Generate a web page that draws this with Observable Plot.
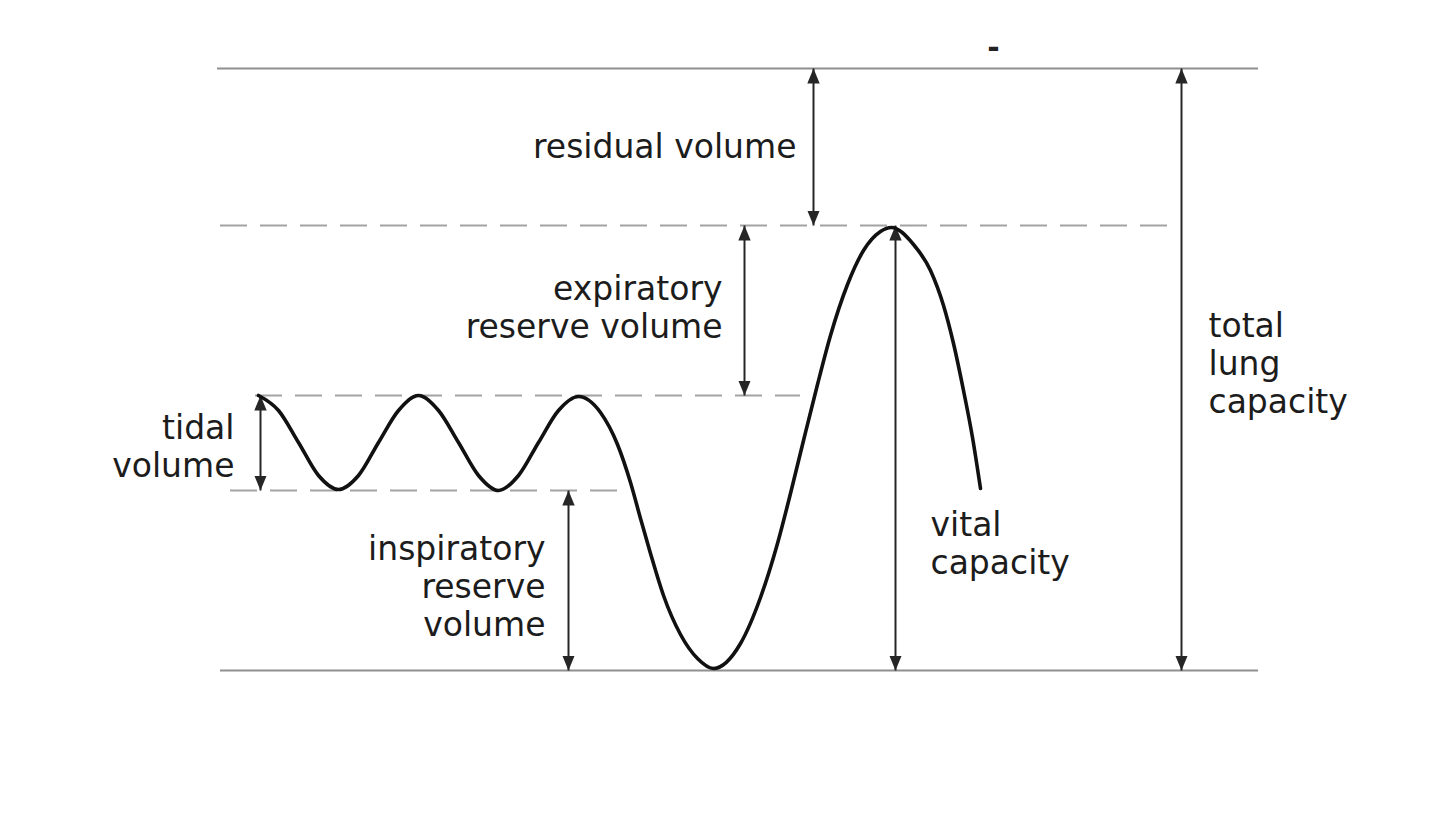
<!DOCTYPE html>
<html>
<head>
<meta charset="utf-8">
<script src="https://cdn.jsdelivr.net/npm/d3@7"></script>
<script src="https://cdn.jsdelivr.net/npm/@observablehq/plot@0.6"></script>
<style>
  html, body { margin: 0; padding: 0; background: #fff; overflow: hidden; }
  #chart svg { display: block; }
</style>
</head>
<body>
<div id="chart"></div>
<script>
// ---- Spirogram trace: time (s) and volume (L, measured downward from the top line) ----
const traceTime = [
  0.95, 1.45, 1.95, 2.45, 2.95, 3.45, 3.95, 4.45, 4.95, 5.45, 5.95, 6.45, 6.95, 7.45, 7.95, 8.45, 8.95,
  9.5, 9.925, 10.25, 10.5, 10.75, 11.075, 11.5, 11.925, 12.325,
  13.0, 13.5, 13.925, 14.25, 14.575, 14.925, 15.25, 15.675, 16.075, 16.5, 16.775,
  17.325, 17.75, 18.075, 18.325, 18.575, 18.8, 19.0];
const traceVolume = [
  3.27, 3.42, 3.74, 4.07, 4.21, 4.07, 3.74, 3.42, 3.27, 3.42, 3.74, 4.07, 4.22, 4.07, 3.74, 3.42, 3.28,
  3.44, 3.76, 4.14, 4.50, 4.85, 5.27, 5.66, 5.90, 6.00,
  5.75, 5.29, 4.75, 4.25, 3.72, 3.16, 2.67, 2.16, 1.82, 1.63, 1.59,
  1.76, 2.02, 2.37, 2.75, 3.22, 3.69, 4.20];

// ---- Reference levels (volume) ----
const levelNames  = ["top", "residual", "tidalTop", "tidalBottom", "bottom"];
const levelValues = [0, 1.57, 3.27, 4.22, 6.02];
const levelStart  = [-0.075, 0, 0.875, 0.25, 0];
const levelEnd    = [25.95, 23.7, 14.5, 10.125, 25.95];
const levelDashed = [false, true, true, true, false];

// ---- Measured spans (double arrows) ----
const spanNames = ["residual volume", "expiratory reserve volume", "tidal volume",
  "inspiratory reserve volume", "vital capacity", "total lung capacity"];
const spanFrom = ["top", "residual", "tidalTop", "tidalBottom", "residual", "top"];
const spanTo   = ["residual", "tidalTop", "tidalBottom", "bottom", "bottom", "bottom"];
const spanTime = [14.825, 13.1, 1.0, 8.7, 16.875, 24.025];

// ---- Labels ----
const labelTexts = ["residual volume", "expiratory\nreserve volume", "tidal\nvolume",
  "inspiratory\nreserve\nvolume", "vital\ncapacity", "total\nlung\ncapacity"];
const labelTime   = [14.4, 12.55, 0.35, 8.125, 17.75, 24.7];
const labelVolume = [0.77, 2.38, 3.775, 5.17, 4.745, 2.945];
const labelAnchor = ["end", "end", "end", "end", "start", "start"];

// stray mark at the top of the figure
const markText = ["-"];
const markTime = [19.325];
const markVolume = [-0.2];

// ---- build tables ----
const trace = traceTime.map((t, i) => ({t, v: traceVolume[i]}));
const levelOf = Object.fromEntries(levelNames.map((n, i) => [n, levelValues[i]]));
const levels = levelNames.map((n, i) => ({v: levelValues[i], t1: levelStart[i], t2: levelEnd[i], dashed: levelDashed[i]}));
const spans = spanNames.map((n, i) => ({name: n, t: spanTime[i], v1: levelOf[spanFrom[i]], v2: levelOf[spanTo[i]]}));
const labels = labelTexts.map((s, i) => ({text: s, t: labelTime[i], v: labelVolume[i], anchor: labelAnchor[i]}));
const marks = markText.map((s, i) => ({text: s, t: markTime[i], v: markVolume[i]}));

const SVGNS = "http://www.w3.org/2000/svg";
function head(reverse) {
  return (color, context) => {
    const doc = (context && context.document) || document;
    const m = doc.createElementNS(SVGNS, "marker");
    m.setAttribute("viewBox", "-15 -6.5 15 13");
    m.setAttribute("markerWidth", 15);
    m.setAttribute("markerHeight", 13);
    m.setAttribute("markerUnits", "userSpaceOnUse");
    m.setAttribute("refX", 0);
    m.setAttribute("refY", 0);
    m.setAttribute("orient", reverse ? "auto-start-reverse" : "auto");
    const p = doc.createElementNS(SVGNS, "path");
    p.setAttribute("d", "M0,0L-15,-6.2L-15,6.2Z");
    p.setAttribute("fill", color);
    p.setAttribute("stroke", "none");
    m.appendChild(p);
    return m;
  };
}

const FONT = "'DejaVu Sans', Verdana, sans-serif";

function build(startMarker, endMarker) {
  return Plot.plot({
    width: 1440,
    height: 840,
    marginTop: 68,
    marginBottom: 170,
    marginLeft: 220,
    marginRight: 180,
    x: {domain: [0, 26], axis: null},
    y: {domain: [0, 6.02], reverse: true, axis: null},
    style: {background: "#fff", fontFamily: FONT},
    marks: [
      Plot.ruleY(levels.filter(d => !d.dashed), {y: "v", x1: "t1", x2: "t2", stroke: "#8f8f8f", strokeWidth: 2}),
      Plot.ruleY(levels.filter(d => d.dashed), {y: "v", x1: "t1", x2: "t2", stroke: "#a3a3a3", strokeWidth: 2, strokeDasharray: "27,13"}),
      Plot.link(spans, {x1: "t", x2: "t", y1: "v1", y2: "v2", stroke: "#262626", strokeWidth: 2,
        markerStart: startMarker, markerEnd: endMarker}),
      Plot.line(trace, {x: "t", y: "v", curve: "monotone-x", stroke: "#111", strokeWidth: 3.6}),
      Plot.text(labels.filter(d => d.anchor === "end"), {x: "t", y: "v", text: "text", textAnchor: "end",
        lineAnchor: "middle", lineHeight: 1.15, fontSize: 33, fill: "#1c1c1c"}),
      Plot.text(labels.filter(d => d.anchor === "start"), {x: "t", y: "v", text: "text", textAnchor: "start",
        lineAnchor: "middle", lineHeight: 1.15, fontSize: 33, fill: "#1c1c1c"}),
      Plot.text(marks, {x: "t", y: "v", text: "text", fontSize: 30, fontWeight: "bold", fill: "#222"})
    ]
  });
}

let chart;
try {
  chart = build(head(true), head(false));
} catch (e) {
  chart = build("arrow-reverse", "arrow");
}
document.getElementById("chart").appendChild(chart);
</script>
</body>
</html>
